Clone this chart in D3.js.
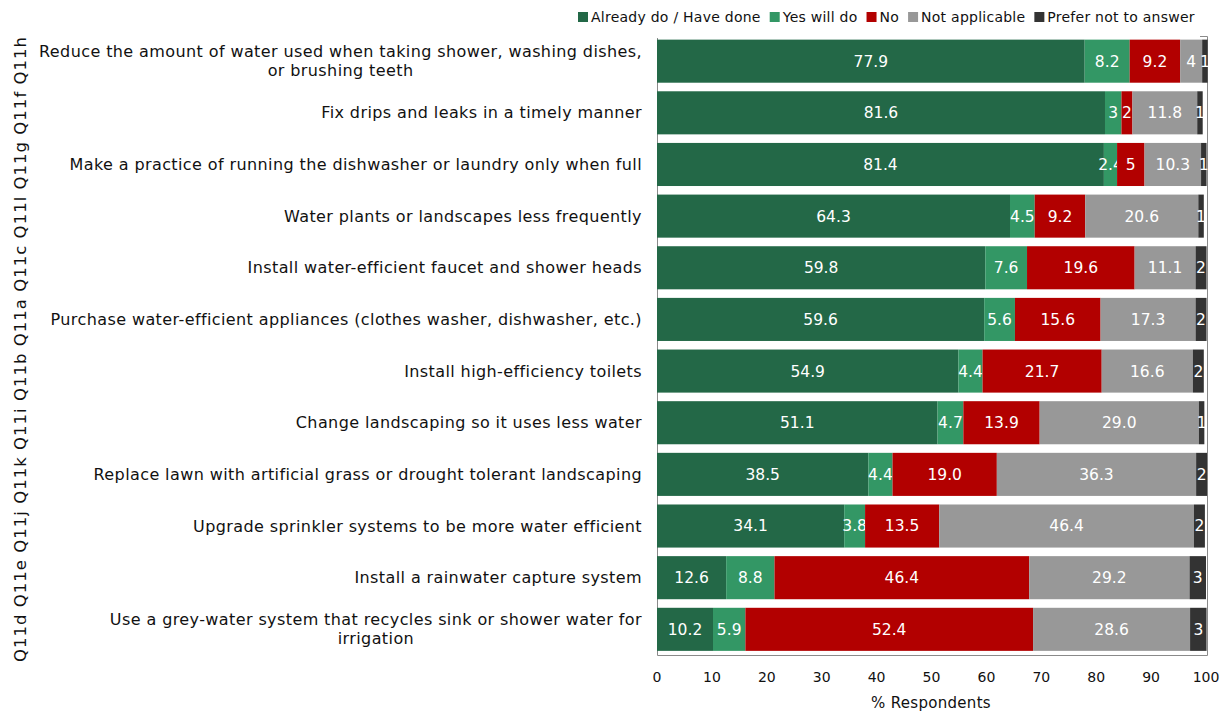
<!DOCTYPE html>
<html><head><meta charset="utf-8">
<script src="https://cdn.jsdelivr.net/npm/d3@7"></script>
<style>body{margin:0;background:#fff}svg{display:block}text{font-family:"DejaVu Sans",sans-serif}</style>
</head><body><svg id="c" width="1227" height="715"></svg>
<script>
const codes = ["Q11h","Q11f","Q11g","Q11l","Q11c","Q11a","Q11b","Q11i","Q11k","Q11j","Q11e","Q11d"];
const categories = [
 "Reduce the amount of water used when taking shower, washing dishes,\nor brushing teeth",
 "Fix drips and leaks in a timely manner",
 "Make a practice of running the dishwasher or laundry only when full",
 "Water plants or landscapes less frequently",
 "Install water-efficient faucet and shower heads",
 "Purchase water-efficient appliances (clothes washer, dishwasher, etc.)",
 "Install high-efficiency toilets",
 "Change landscaping so it uses less water",
 "Replace lawn with artificial grass or drought tolerant landscaping",
 "Upgrade sprinkler systems to be more water efficient",
 "Install a rainwater capture system",
 "Use a grey-water system that recycles sink or shower water for\nirrigation"
];
const seriesNames = ["Already do / Have done","Yes will do","No","Not applicable","Prefer not to answer"];
const alreadyDo = [77.9,81.6,81.4,64.3,59.8,59.6,54.9,51.1,38.5,34.1,12.6,10.2];
const yesWillDo = [8.2,3,2.4,4.5,7.6,5.6,4.4,4.7,4.4,3.8,8.8,5.9];
const no = [9.2,2,5,9.2,19.6,15.6,21.7,13.9,19.0,13.5,46.4,52.4];
const notApplicable = [4,11.8,10.3,20.6,11.1,17.3,16.6,29.0,36.3,46.4,29.2,28.6];
const preferNot = [1,1,1,1,2,2,2,1,2,2,3,3];
const xTicks = [0,10,20,30,40,50,60,70,80,90,100];
const colors = ["#236847","#339765","#b20000","#989898","#333333"];

const seriesVals = [alreadyDo,yesWillDo,no,notApplicable,preferNot];
const rows = categories.map((c,i)=>{const r={cat:c,idx:i};seriesNames.forEach((s,j)=>r[s]=seriesVals[j][i]);return r;});
const stack = d3.stack().keys(seriesNames)(rows);

const svg = d3.select("#c");
const x = d3.scaleLinear().domain([0,100]).range([657,1206]);
const y = d3.scaleBand().domain(categories).range([35.5,655]).paddingInner(0.166).paddingOuter(0.08);

// frame
svg.append("path").attr("stroke","#8a8a8a").attr("stroke-width",1).attr("fill","none")
  .attr("d",`M657.5,38V655.5H1207.5V36.5H1200`);

const fmt = v => (Number.isInteger(v) && v<10) ? String(v) : d3.format(".1f")(v);

stack.forEach((s,si)=>{
  const g = svg.append("g");
  g.selectAll("rect").data(s).join("rect")
   .attr("x",d=>x(d[0])).attr("width",d=>x(d[1])-x(d[0]))
   .attr("y",d=>y(d.data.cat)).attr("height",y.bandwidth())
   .attr("fill",colors[si]);
  g.selectAll("text").data(s).join("text")
   .attr("x",d=>(x(d[0])+x(d[1]))/2).attr("y",d=>y(d.data.cat)+y.bandwidth()/2)
   .attr("dy","0.35em").attr("text-anchor","middle").attr("fill","#fff")
   .attr("font-size",15.5).text(d=>fmt(seriesVals[si][d.data.idx]));
});

// category labels (multi-line blocks right-aligned, lines centred within block)
const labG = svg.append("g").attr("font-size",16).attr("letter-spacing","0.4px").attr("fill","#111");
categories.forEach(c=>{
  const lines = c.split("\n");
  const t = labG.append("text").attr("text-anchor","middle");
  const probe = labG.append("text");
  let mw=0; lines.forEach(l=>{probe.text(l);mw=Math.max(mw,probe.node().getComputedTextLength());});
  probe.remove();
  const cx = 642 - mw/2;
  const cy = y(c)+y.bandwidth()/2;
  const lh = 19;
  lines.forEach((l,i)=>{
    t.append("tspan").attr("x",cx).attr("y",cy+(i-(lines.length-1)/2)*lh).attr("dy","0.35em").text(l);
  });
});

// rotated code string
const codeStr = codes.slice().reverse().join(" ");
svg.append("text").attr("transform","translate(26,349.5) rotate(-90)")
  .attr("text-anchor","middle").attr("font-size",16.5).attr("fill","#111")
  .attr("textLength",625).attr("lengthAdjust","spacing").text(codeStr);

// x axis labels
svg.append("g").attr("font-size",14).attr("fill","#111").selectAll("text").data(xTicks).join("text")
  .attr("x",d=>x(d)).attr("y",677).attr("dy","0.35em").attr("text-anchor","middle").text(d=>d);
svg.append("text").attr("x",931).attr("y",703).attr("dy","0.35em").attr("text-anchor","middle")
  .attr("font-size",15).attr("letter-spacing","0.3px").attr("fill","#111").text("% Respondents");

// legend
const lg = svg.append("g").attr("font-size",14).attr("letter-spacing","0.25px").attr("fill","#111");
let lx = 578;
seriesNames.forEach((s,i)=>{
  lg.append("rect").attr("x",lx).attr("y",12).attr("width",10).attr("height",10).attr("fill",colors[i]);
  const t = lg.append("text").attr("x",lx+13).attr("y",17).attr("dy","0.35em").text(s);
  lx += 13 + t.node().getComputedTextLength() + 9;
});
</script></body></html>
